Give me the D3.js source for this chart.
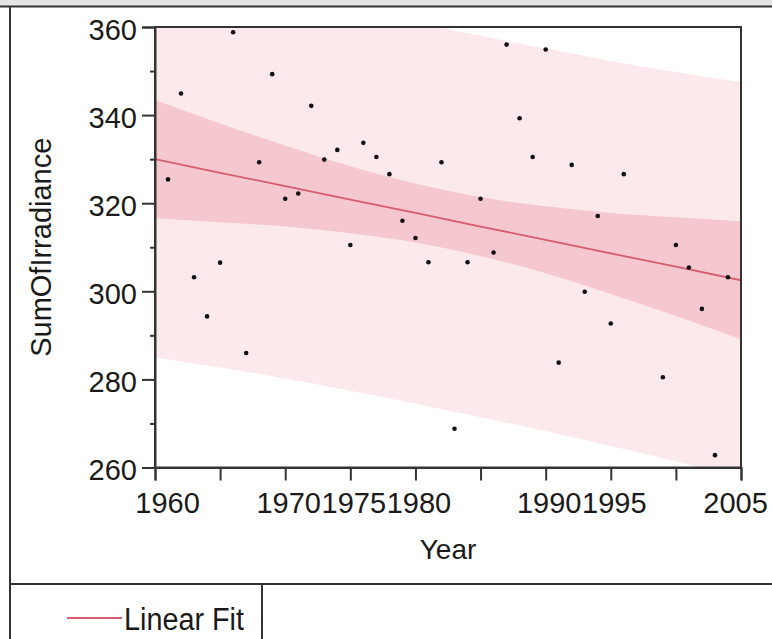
<!DOCTYPE html>
<html>
<head>
<meta charset="utf-8">
<script src="https://cdn.jsdelivr.net/npm/d3@7"></script>
<style>
    body { margin: 0; background: #fff; }
    text { font-family: "Liberation Sans", Arial, sans-serif; fill: #1a1a1a; }
</style>
</head>
<body>
<div id="svgContainer"></div>
<script>
// observed points
const years = [1961, 1962, 1963, 1964, 1965, 1966, 1967, 1968, 1969, 1970, 1971, 1972, 1973, 1974, 1975,
    1976, 1977, 1978, 1979, 1980, 1981, 1982, 1983, 1984, 1985, 1986, 1987, 1988, 1989, 1990, 1991,
    1992, 1993, 1994, 1995, 1996, 1999, 2000, 2001, 2002, 2003, 2004];
const irradiance = [325.4, 344.9, 303.2, 294.3, 306.5, 358.8, 286.0, 329.3, 349.3, 321.0, 322.2, 342.1, 329.9, 332.1, 310.5,
    333.7, 330.5, 326.6, 316.0, 312.1, 306.6, 329.3, 268.8, 306.6, 321.0, 308.8, 356.0, 339.3, 330.5, 354.9, 283.8,
    328.7, 299.9, 317.1, 292.7, 326.6, 280.5, 310.5, 305.4, 296.0, 262.8, 303.2];

// linear fit with confidence (inner) and prediction (outer) bands, read at 5-year steps
const bandYears = [1960, 1965, 1970, 1975, 1980, 1985, 1990, 1995, 2000, 2005];
const fitValues = [330.0, 326.9, 323.9, 320.8, 317.8, 314.7, 311.7, 308.6, 305.6, 302.5];
const confLower = [316.6, 315.7, 314.7, 313.2, 311.1, 308.0, 304.1, 299.4, 294.4, 289.1];
const confUpper = [343.4, 338.1, 333.1, 328.4, 324.5, 321.4, 319.3, 317.8, 316.8, 315.9];
const predLower = [285.0, 282.7, 280.2, 277.4, 274.5, 271.4, 268.3, 264.9, 261.4, 257.5];
const predUpper = [375.0, 371.1, 367.6, 364.2, 361.1, 358.0, 355.1, 352.3, 349.8, 347.5];

const xTicks = [1960, 1965, 1970, 1975, 1980, 1985, 1990, 1995, 2000, 2005];
const xTickLabels = ["1960", "", "1970", "1975", "1980", "", "1990", "1995", "", "2005"];
const yTicks = [260, 270, 280, 290, 300, 310, 320, 330, 340, 350, 360];
const yTickLabels = ["260", "", "280", "", "300", "", "320", "", "340", "", "360"];

const width = 772, height = 639;
const plot = {left: 155, right: 741, top: 27, bottom: 467.5};

let svg = d3.select("#svgContainer").append("svg")
    .attr("width", width)
    .attr("height", height);

// window chrome: grey strip, frame, legend divider
svg.append("rect").attr("x", 0).attr("y", 0).attr("width", width).attr("height", 6).attr("fill", "#e4e4e4");
svg.append("line").attr("x1", 0).attr("x2", width).attr("y1", 6.5).attr("y2", 6.5)
    .attr("stroke", "#333").attr("stroke-width", 2);
svg.append("line").attr("x1", 10).attr("x2", 10).attr("y1", 6.5).attr("y2", height)
    .attr("stroke", "#333").attr("stroke-width", 2);
svg.append("line").attr("x1", 10).attr("x2", width).attr("y1", 584).attr("y2", 584)
    .attr("stroke", "#333").attr("stroke-width", 2);
svg.append("line").attr("x1", 262).attr("x2", 262).attr("y1", 584).attr("y2", height)
    .attr("stroke", "#333").attr("stroke-width", 2);

let x = d3.scaleLinear().domain([1960, 2005]).range([plot.left, plot.right]);
let y = d3.scaleLinear().domain([260, 360]).range([plot.bottom, plot.top]);

svg.append("clipPath").attr("id", "plotClip")
    .append("rect")
    .attr("x", plot.left).attr("y", plot.top)
    .attr("width", plot.right - plot.left).attr("height", plot.bottom - plot.top);

let g = svg.append("g").attr("clip-path", "url(#plotClip)");

let band = (lo, hi) => d3.area()
    .x((d, i) => x(bandYears[i]))
    .y0((d, i) => y(lo[i]))
    .y1((d, i) => y(hi[i]))
    .curve(d3.curveMonotoneX)(bandYears);

g.append("path").attr("d", band(predLower, predUpper)).attr("fill", "#fbe9ec");
g.append("path").attr("d", band(confLower, confUpper)).attr("fill", "#f5c8cf");

g.append("path")
    .attr("d", d3.line().x((d, i) => x(bandYears[i])).y((d, i) => y(fitValues[i]))(bandYears))
    .attr("fill", "none")
    .attr("stroke", "#d65c70")
    .attr("stroke-width", 1.8);

g.selectAll("circle")
    .data(years)
    .join("circle")
    .attr("cx", d => x(d))
    .attr("cy", (d, i) => y(irradiance[i]))
    .attr("r", 2.3)
    .attr("fill", "#111");

// plot frame
svg.append("rect")
    .attr("x", plot.left).attr("y", plot.top)
    .attr("width", plot.right - plot.left).attr("height", plot.bottom - plot.top)
    .attr("fill", "none").attr("stroke", "#333").attr("stroke-width", 2);

let xAxis = svg.append("g")
    .attr("transform", `translate(0,${plot.bottom})`)
    .call(d3.axisBottom(x).tickValues(xTicks).tickFormat((d, i) => xTickLabels[i]).tickSize(13).tickPadding(12));

// first and last labels are nudged inward like the original
xAxis.selectAll(".tick text")
    .attr("dx", (d, i) => i === 0 ? 12 : i === xTicks.length - 1 ? -6 : 3);

let yAxis = svg.append("g")
    .attr("transform", `translate(${plot.left},0)`)
    .call(d3.axisLeft(y).tickValues(yTicks).tickFormat((d, i) => yTickLabels[i]).tickSize(13).tickPadding(5));

yAxis.selectAll(".tick line").attr("x2", (d, i) => yTickLabels[i] === "" ? -5 : -13);
yAxis.selectAll(".tick text").attr("dy", "0.42em");

[xAxis, yAxis].forEach(ax => {
    ax.select(".domain").attr("stroke", "#333").attr("stroke-width", 2);
    ax.selectAll(".tick line").attr("stroke", "#333").attr("stroke-width", 2);
    ax.selectAll(".tick text").style("font-size", "29px").attr("fill", "#1a1a1a");
});

svg.append("text")
    .attr("x", (plot.left + plot.right) / 2)
    .attr("y", 559)
    .attr("text-anchor", "middle")
    .style("font-size", "28px")
    .text("Year");

svg.append("text")
    .attr("transform", `translate(51,${(plot.top + plot.bottom) / 2}) rotate(-90)`)
    .attr("text-anchor", "middle")
    .style("font-size", "29px")
    .text("SumOfIrradiance");

// legend
svg.append("line")
    .attr("x1", 67).attr("x2", 122).attr("y1", 618).attr("y2", 618)
    .attr("stroke", "#d65c70").attr("stroke-width", 2);
svg.append("text")
    .attr("x", 124)
    .attr("y", 630)
    .attr("textLength", 120)
    .attr("lengthAdjust", "spacingAndGlyphs")
    .style("font-size", "31px")
    .text("Linear Fit");
</script>
</body>
</html>
